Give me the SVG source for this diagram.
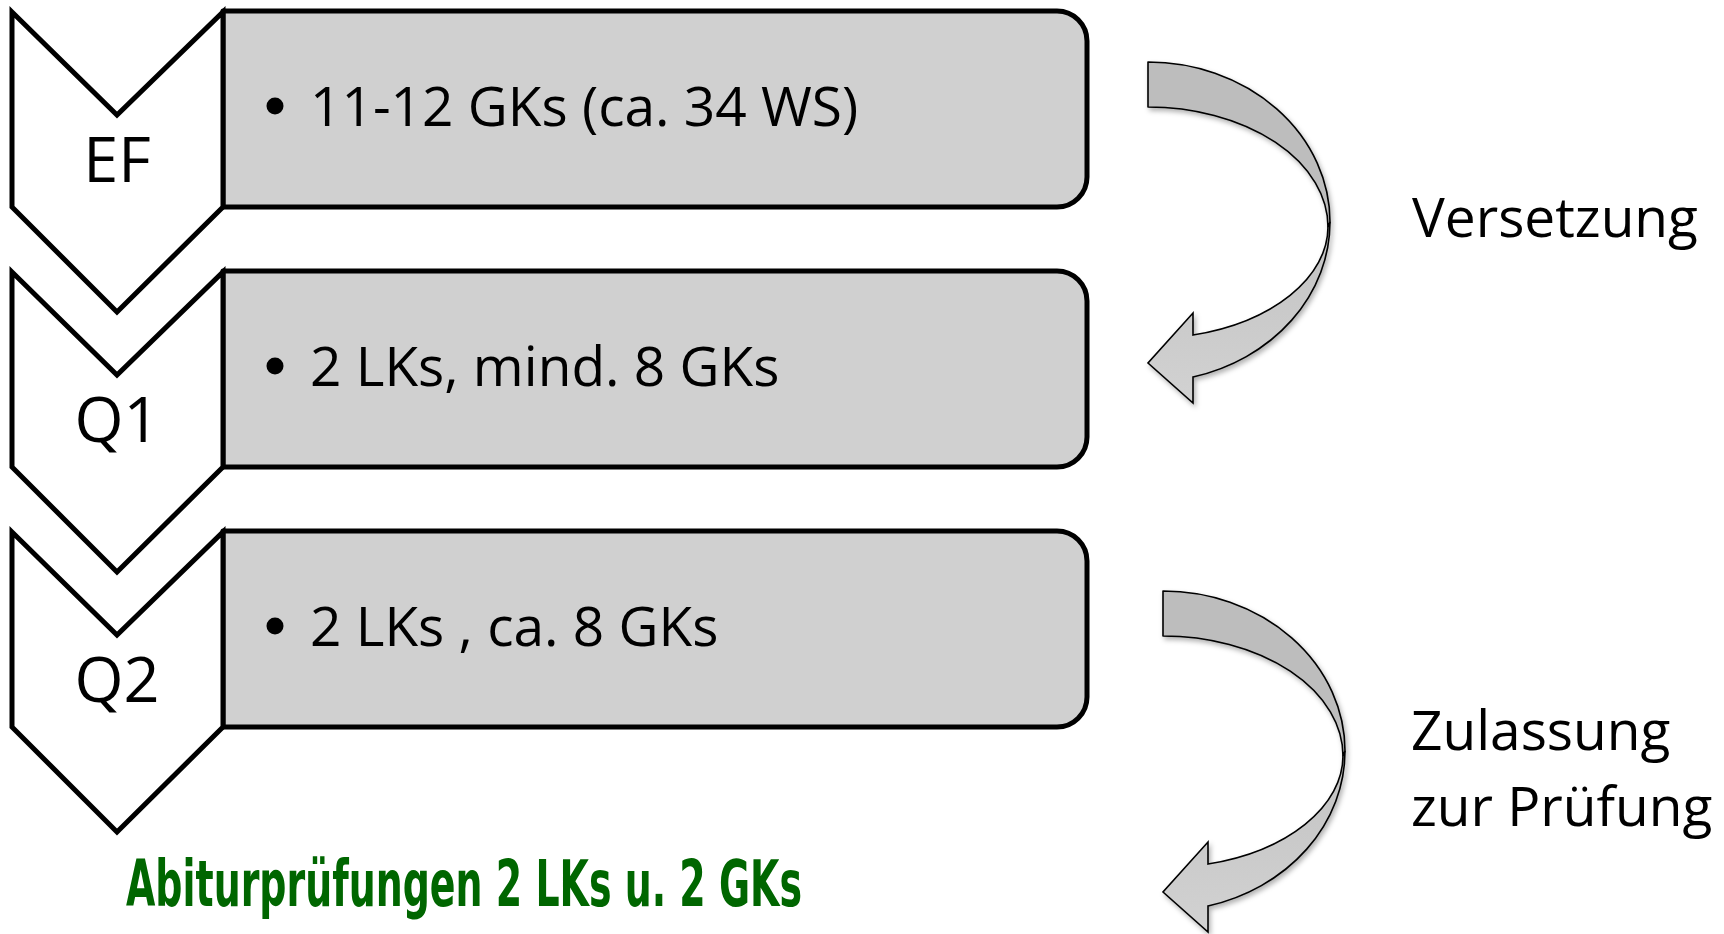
<svg xmlns="http://www.w3.org/2000/svg" width="1724" height="934" viewBox="0 0 1724 934">
  <defs>
    <style>
      .box { fill: #D0D0D0; stroke: #000; stroke-width: 5; stroke-linejoin: round; }
      .chev { fill: #FFFFFF; stroke: #000; stroke-width: 5; stroke-linejoin: miter; }
      .lbl { font-family: "Open Sans", "Noto Sans", "Liberation Sans", sans-serif; font-size: 63px; fill: #000; text-anchor: middle; }
      .txt { font-family: "Open Sans", "Noto Sans", "Liberation Sans", sans-serif; font-size: 55px; fill: #000; }
      .bul { fill: #000; }
      .arrTop { fill: #BDBDBD; stroke: #000; stroke-width: 1.6; stroke-linejoin: round; }
      .arrBot { fill: url(#gBot); stroke: #000; stroke-width: 1.6; stroke-linejoin: miter; }
      .green { font-family: "Liberation Sans Narrow", "DejaVu Sans Condensed", "DejaVu Sans", sans-serif; font-weight: bold; font-stretch: condensed; font-size: 64px; fill: #006600; }
    </style>
    <linearGradient id="gBot" x1="0" y1="0" x2="0" y2="1">
      <stop offset="0" stop-color="#C2C2C2"/>
      <stop offset="1" stop-color="#D2D2D2"/>
    </linearGradient>
    <filter id="shadow" x="-20%" y="-20%" width="140%" height="140%">
      <feDropShadow dx="2" dy="3" stdDeviation="2.5" flood-color="#000" flood-opacity="0.3"/>
    </filter>
    <g id="arrow">
      <path class="arrTop" d="M1148,62 A182,160 0 0 1 1330,222 L1328,227 A180,120 0 0 0 1148,107 Z"/>
      <path class="arrBot" d="M1330,222 A182,160 0 0 1 1193,377 L1193,403 L1148,363 L1193,313 L1193,335 A180,112 0 0 0 1328,227 Z"/>
    </g>
  </defs>

  <rect width="1724" height="934" fill="#FFFFFF"/>

  <g id="node-ef">
    <path class="box" d="M223,11 H1057 A30,30 0 0 1 1087,41 V177 A30,30 0 0 1 1057,207 H223 Z"/>
    <path class="chev" d="M12,12 L117,115 L223,12 L223,207 L117,312 L12,207 Z"/>
    <text class="lbl" x="117" y="182">EF</text>
    <circle class="bul" cx="275" cy="106" r="8.5"/>
    <text class="txt" x="310" y="126">11-12 GKs (ca. 34 WS)</text>
  </g>

  <g id="node-q1">
    <path class="box" d="M223,271 H1057 A30,30 0 0 1 1087,301 V437 A30,30 0 0 1 1057,467 H223 Z"/>
    <path class="chev" d="M12,272 L117,375 L223,272 L223,467 L117,572 L12,467 Z"/>
    <text class="lbl" x="117" y="442">Q1</text>
    <circle class="bul" cx="275" cy="366" r="8.5"/>
    <text class="txt" x="310" y="386">2 LKs, mind. 8 GKs</text>
  </g>

  <g id="node-q2">
    <path class="box" d="M223,531 H1057 A30,30 0 0 1 1087,561 V697 A30,30 0 0 1 1057,727 H223 Z"/>
    <path class="chev" d="M12,532 L117,635 L223,532 L223,727 L117,832 L12,727 Z"/>
    <text class="lbl" x="117" y="702">Q2</text>
    <circle class="bul" cx="275" cy="626" r="8.5"/>
    <text class="txt" x="310" y="646">2 LKs , ca. 8 GKs</text>
  </g>

  <g id="connectors" filter="url(#shadow)">
    <use href="#arrow"/>
    <use href="#arrow" transform="translate(15,529)"/>
  </g>

  <g id="labels">
    <text class="txt" x="1412" y="237">Versetzung</text>
    <text class="txt" x="1411" y="750">Zulassung</text>
    <text class="txt" x="1411" y="826">zur Prüfung</text>
    <text class="green" x="126" y="906" textLength="676" lengthAdjust="spacingAndGlyphs">Abiturprüfungen 2 LKs u. 2 GKs</text>
  </g>
</svg>
